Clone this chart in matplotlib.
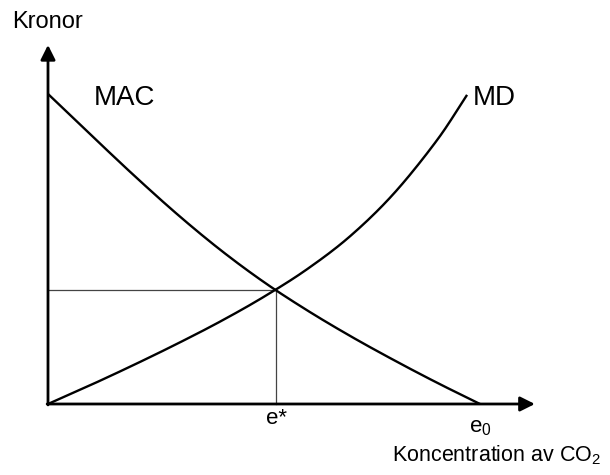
import matplotlib
matplotlib.use("Agg")
import matplotlib.pyplot as plt
import numpy as np

plt.rcParams["font.family"] = ["Liberation Sans", "DejaVu Sans"]
plt.rcParams["mathtext.fontset"] = "custom"
plt.rcParams["mathtext.rm"] = "Liberation Sans"
plt.rcParams["mathtext.it"] = "Liberation Sans"

# curves (x: e0 = 10, y: MAC(0) = 10)
mac_x = [0, 1, 2, 3, 4, 5, 6, 7, 8, 9, 10]
mac_y = [10.0, 8.67, 7.36, 6.11, 4.96, 3.93, 3.02, 2.19, 1.42, 0.69, 0.0]
md_x = [0, 1, 2, 3, 4, 5, 6, 7, 8, 9, 9.7]
md_y = [0.0, 0.62, 1.27, 1.95, 2.67, 3.46, 4.35, 5.42, 6.78, 8.5, 9.97]
e_star = 5.28
p_star = 3.67
e_zero = 10
x_end = 11.27
y_end = 11.58


def smooth(xs, ys, n=20):
    # catmull-rom through the read points, just for a smooth stroke
    p = np.column_stack([xs, ys]).astype(float)
    p = np.vstack([2 * p[0] - p[1], p, 2 * p[-1] - p[-2]])
    t = np.linspace(0, 1, n, endpoint=False)[:, None]
    out = []
    for i in range(1, len(p) - 2):
        p0, p1, p2, p3 = p[i - 1], p[i], p[i + 1], p[i + 2]
        out.append(0.5 * (2 * p1 + (-p0 + p2) * t
                          + (2 * p0 - 5 * p1 + 4 * p2 - p3) * t ** 2
                          + (-p0 + 3 * p1 - 3 * p2 + p3) * t ** 3))
    out.append(p[-2][None, :])
    out = np.vstack(out)
    return out[:, 0], out[:, 1]


fig = plt.figure(figsize=(6.1, 4.75), dpi=100)
ax = fig.add_axes([0, 0, 1, 1])
ax.set_xlim(-1.111, 13.009)
ax.set_ylim(-2.29, 13.03)
ax.axis("off")

# axes with arrow heads
arrow = dict(arrowstyle="-|>", lw=2, color="black", mutation_scale=22,
             shrinkA=0, shrinkB=0)
ax.annotate("", xy=(x_end, 0), xytext=(-0.02, 0), arrowprops=arrow)
ax.annotate("", xy=(0, y_end), xytext=(0, -0.03), arrowprops=arrow)

# equilibrium guide lines
ax.plot([0, e_star], [p_star, p_star], color="#444444", lw=0.9)
ax.plot([e_star, e_star], [p_star, 0], color="#444444", lw=0.9)

ax.plot(*smooth(mac_x, mac_y), color="black", lw=1.7, solid_capstyle="butt")
ax.plot(*smooth(md_x, md_y), color="black", lw=1.7, solid_capstyle="butt")

ax.text(1.78, 9.87, "MAC", fontsize=20, ha="center", va="center")
ax.text(10.33, 9.87, "MD", fontsize=20, ha="center", va="center")
ax.text(0, 12.32, "Kronor", fontsize=17, ha="center", va="center")
ax.text(e_star, -0.48, "e*", fontsize=16, ha="center", va="center")
ax.text(e_zero, -0.75, r"$\mathregular{e_0}$", fontsize=16, ha="center", va="center")
ax.text(12.8, -1.65, r"Koncentration av CO$\mathregular{_2}$", fontsize=15.5,
        ha="right", va="center")

fig.savefig("out.png", dpi=100)
plt.close(fig)
